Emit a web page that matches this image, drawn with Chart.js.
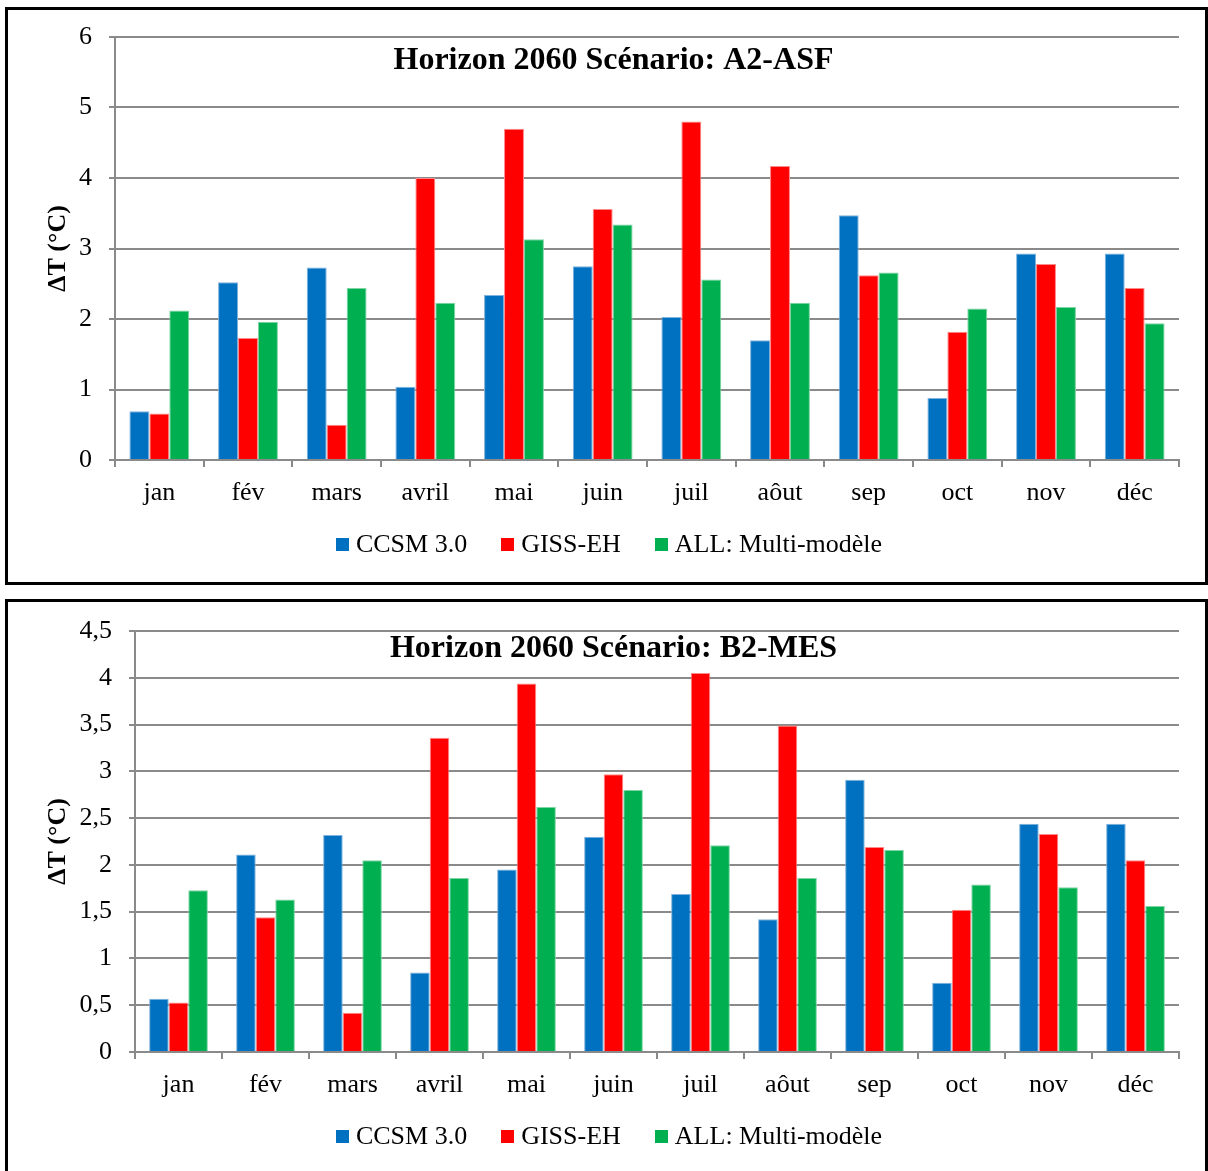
<!DOCTYPE html>
<html>
<head>
<meta charset="utf-8">
<script src="https://cdn.jsdelivr.net/npm/chart.js@4/dist/chart.umd.min.js"></script>
<style>
  html, body { margin: 0; padding: 0; background: #fff; }
  body { width: 1208px; height: 1171px; overflow: hidden; position: relative; }
  .panel { position: absolute; left: 5px; width: 1197px; height: 572px; border: 3px solid #000; background: #fff; }
  #p1 { top: 7px; }
  #p2 { top: 599px; }
  .panel canvas { display: block; }
  .legend {
    position: absolute; left: 0; width: 100%; top: 521px;
    display: flex; justify-content: center; box-sizing: border-box; padding-left: 5px;
    font-family: 'Liberation Serif', 'Times New Roman', serif; font-size: 26px; line-height: 26px; color: #000;
  }
  .legend .item { display: flex; align-items: center; margin: 0 17px; white-space: nowrap; }
  .legend .swatch { width: 13px; height: 13px; margin-right: 7px; }
</style>
</head>
<body>
<div class="panel" id="p1"><canvas id="c1" width="1197" height="572"></canvas><div class="legend" id="l1"></div></div>
<div class="panel" id="p2"><canvas id="c2" width="1197" height="572"></canvas><div class="legend" id="l2"></div></div>
<script>
// Months on the category axis
const months = ['jan', 'fév', 'mars', 'avril', 'mai', 'juin', 'juil', 'aôut', 'sep', 'oct', 'nov', 'déc'];

// Series names
const seriesNames = ['CCSM 3.0', 'GISS-EH', 'ALL: Multi-modèle'];

// Horizon 2060, scenario A2-ASF (ΔT in °C)
const a2Ccsm = [0.69, 2.52, 2.73, 1.04, 2.34, 2.75, 2.03, 1.70, 3.47, 0.88, 2.93, 2.93];
const a2Giss = [0.66, 1.73, 0.50, 4.00, 4.70, 3.56, 4.80, 4.17, 2.62, 1.82, 2.78, 2.44];
const a2All  = [2.12, 1.96, 2.44, 2.23, 3.13, 3.34, 2.56, 2.23, 2.66, 2.15, 2.17, 1.94];

// Horizon 2060, scenario B2-MES (ΔT in °C)
const b2Ccsm = [0.57, 2.11, 2.32, 0.85, 1.95, 2.30, 1.69, 1.42, 2.91, 0.74, 2.44, 2.44];
const b2Giss = [0.53, 1.44, 0.42, 3.36, 3.94, 2.97, 4.05, 3.49, 2.19, 1.52, 2.33, 2.05];
const b2All  = [1.73, 1.63, 2.05, 1.86, 2.62, 2.80, 2.21, 1.86, 2.16, 1.79, 1.76, 1.56];

// Value-axis tick labels (French decimal comma)
const a2Ticks = ['0', '1', '2', '3', '4', '5', '6'];
const b2Ticks = ['0', '0,5', '1', '1,5', '2', '2,5', '3', '3,5', '4', '4,5'];

const seriesColors = ['#0070C0', '#FF0000', '#00B050'];
const seriesEdges = ['#7fb2dc', '#ff8a8a', '#7fd4a4'];
const gridGray = '#8a8a8a';
const serif = "'Liberation Serif', 'Times New Roman', serif";

// Chart heading drawn inside the plot area
const panelTitle = {
  id: 'panelTitle',
  afterDatasetsDraw(chart, args, opts) {
    const ctx = chart.ctx;
    ctx.save();
    ctx.font = 'bold 32px ' + serif;
    ctx.fillStyle = '#000';
    ctx.textAlign = 'center';
    ctx.textBaseline = 'middle';
    ctx.fillText(opts.text, chart.width / 2 + opts.dx, chart.chartArea.top + opts.dy);
    ctx.restore();
  }
};

// Legend row under the axis, built from the chart's own datasets
function buildLegend(chart, legendId) {
  const box = document.getElementById(legendId);
  chart.data.datasets.forEach(ds => {
    const item = document.createElement('span');
    item.className = 'item';
    const sw = document.createElement('span');
    sw.className = 'swatch';
    sw.style.background = ds.backgroundColor;
    const txt = document.createElement('span');
    txt.textContent = ds.label;
    item.appendChild(sw);
    item.appendChild(txt);
    box.appendChild(item);
  });
}

function buildChart(canvasId, values, ticks, step, title, axisWidth, padTop, titleDy) {
  return new Chart(document.getElementById(canvasId), {
    type: 'bar',
    data: {
      labels: months,
      datasets: values.map((v, i) => ({
        label: seriesNames[i],
        data: v,
        backgroundColor: seriesColors[i],
        borderColor: seriesEdges[i],
        borderWidth: 1,
        borderSkipped: 'bottom',
        barPercentage: 1.0,
        categoryPercentage: 0.675
      }))
    },
    plugins: [panelTitle],
    options: {
      responsive: false,
      animation: false,
      layout: { autoPadding: false, padding: { top: padTop, right: 26, bottom: 62, left: 0 } },
      plugins: {
        tooltip: { enabled: false },
        title: { display: false },
        legend: { display: false },
        panelTitle: { text: title, dx: 7, dy: titleDy }
      },
      scales: {
        x: {
          afterFit(scale) { scale.height = 60; },
          grid: {
            drawOnChartArea: false,
            drawTicks: true,
            tickLength: 7,
            color: gridGray,
            lineWidth: 2
          },
          border: { display: true, color: gridGray, width: 2 },
          ticks: {
            font: { family: serif, size: 26 },
            color: '#000',
            padding: 11,
            maxRotation: 0
          }
        },
        y: {
          min: 0,
          max: (ticks.length - 1) * step,
          afterFit(scale) {
            scale.width = axisWidth;
            scale.paddingTop = 0;
            scale.paddingBottom = 0;
          },
          grid: {
            color: gridGray,
            lineWidth: 2,
            drawTicks: true,
            tickLength: 6
          },
          border: { display: true, color: gridGray, width: 2 },
          ticks: {
            stepSize: step,
            font: { family: serif, size: 26 },
            color: '#000',
            padding: 17,
            callback: (v, i) => ticks[i]
          },
          title: {
            display: true,
            text: 'ΔT (°C)',
            font: { family: serif, size: 26, weight: 'bold' },
            color: '#000',
            padding: { top: 35, bottom: 0 }
          }
        }
      }
    }
  });
}

const chartA2 = buildChart('c1', [a2Ccsm, a2Giss, a2All], a2Ticks, 1, 'Horizon 2060 Scénario: A2-ASF', 107, 27, 24);
const chartB2 = buildChart('c2', [b2Ccsm, b2Giss, b2All], b2Ticks, 0.5, 'Horizon 2060 Scénario: B2-MES', 127, 29, 17.5);
buildLegend(chartA2, 'l1');
buildLegend(chartB2, 'l2');
</script>
</body>
</html>
